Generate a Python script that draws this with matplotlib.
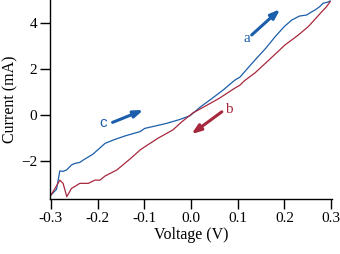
import matplotlib
matplotlib.use("Agg")
import matplotlib.pyplot as plt

# Blue branch (upper curve), voltage (V) and current (mA)
blue_v = [-0.300, -0.288, -0.281, -0.274, -0.266, -0.256, -0.248, -0.238, -0.231,
          -0.210, -0.184, -0.163, -0.140, -0.109, -0.099, -0.075, -0.052, -0.025, -0.002,
          0.020, 0.045, 0.069, 0.094, 0.105, 0.120, 0.137, 0.160, 0.180, 0.200,
          0.216, 0.232, 0.248, 0.258, 0.266, 0.275, 0.283, 0.292, 0.298]
blue_i = [-3.48, -3.23, -2.43, -2.45, -2.38, -2.17, -2.10, -2.06, -1.96,
          -1.70, -1.23, -1.06, -0.90, -0.72, -0.58, -0.47, -0.36, -0.20, -0.03,
          0.35, 0.72, 1.09, 1.52, 1.65, 2.00, 2.39, 2.90, 3.40, 3.85,
          4.13, 4.30, 4.35, 4.48, 4.57, 4.70, 4.86, 4.90, 4.96]

# Red branch (lower curve)
red_v = [0.298, 0.290, 0.280, 0.265, 0.251, 0.230, 0.201, 0.170, 0.137, 0.115,
         0.105, 0.094, 0.060, 0.030, 0.004, -0.020, -0.039, -0.070, -0.099, -0.109,
         -0.130, -0.159, -0.184, -0.195, -0.206, -0.220, -0.238, -0.256, -0.266,
         -0.274, -0.281, -0.290, -0.300]
red_i = [4.93, 4.70, 4.49, 4.15, 3.84, 3.48, 3.04, 2.45, 1.83, 1.50,
         1.30, 1.17, 0.72, 0.38, 0.09, -0.30, -0.65, -1.00, -1.38, -1.52,
         -1.90, -2.39, -2.65, -2.83, -2.83, -2.97, -2.97, -3.19, -3.55,
         -2.97, -2.83, -3.15, -3.48]

xticks = [-0.3, -0.2, -0.1, 0.0, 0.1, 0.2, 0.3]
yticks = [-2, 0, 2, 4]

blue = "#1b5eab"
red = "#a7283d"

plt.rcParams['font.family'] = ['Liberation Serif', 'DejaVu Serif']
fig = plt.figure(figsize=(3.4, 2.54), dpi=100)
ax = fig.add_axes([50/340, 1 - 199/254, 282/340, 199/254])

ax.plot(blue_v, blue_i, color=blue, lw=0.9)
ax.plot(red_v, red_i, color=red, lw=0.9)

ax.set_xlim(-0.302, 0.302)
ax.set_ylim(-3.65, 5.0)
ax.set_xticks(xticks)
ax.set_xticklabels([f"{t:.1f}" for t in xticks])
ax.set_yticks(yticks)
ax.spines['top'].set_visible(False)
ax.spines['right'].set_visible(False)
for s in ('left', 'bottom'):
    ax.spines[s].set_linewidth(1.0)
ax.tick_params(direction='out', length=7, width=1.0, labelsize=11, pad=2)
ax.set_xlabel("Voltage (V)", fontsize=11.5, labelpad=2)
ax.set_ylabel("Current (mA)", fontsize=11.5, labelpad=2)

def arrow(start, end, color):
    ax.annotate("", xy=end, xytext=start,
                arrowprops=dict(arrowstyle="-|>,head_length=0.55,head_width=0.2",
                                lw=2.2, color=color, shrinkA=0, shrinkB=0))

arrow((0.130, 3.48), (0.191, 4.60), blue)
arrow((0.066, 0.14), (0.001, -0.83), red)
arrow((-0.168, -0.32), (-0.102, 0.22), blue)

ax.text(0.119, 3.34, "a", color=blue, fontsize=11, ha='center', va='center')
ax.text(0.080, 0.25, "b", color=red, fontsize=11, ha='center', va='center')
ax.text(-0.188, -0.36, "c", color=blue, fontsize=11, ha='center', va='center',
        family=['Liberation Sans', 'DejaVu Sans'])

fig.savefig("out.png", dpi=100)
